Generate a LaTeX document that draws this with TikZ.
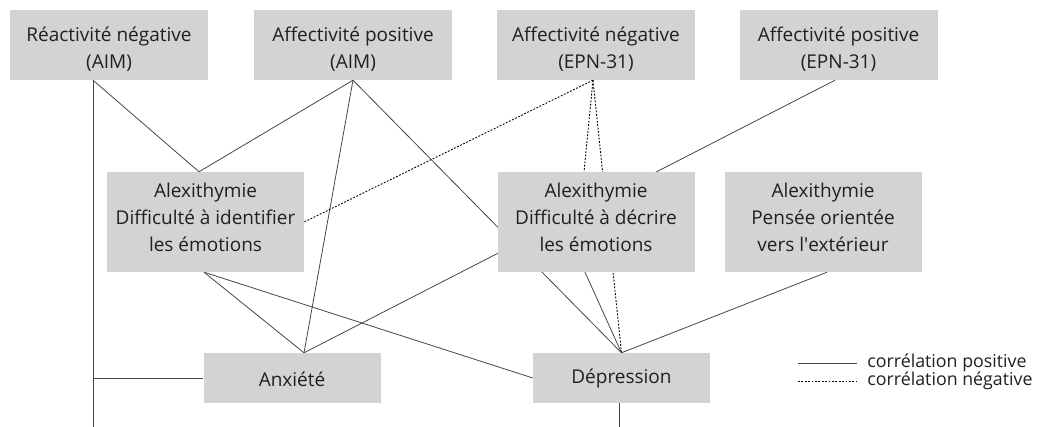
\documentclass[tikz,border=0pt]{standalone}
\usepackage{fontspec}
\setmainfont{Open Sans}
\usetikzlibrary{positioning,calc}
\pgfdeclarelayer{background}
\pgfsetlayers{background,main}
\definecolor{boxgray}{RGB}{210,211,213}
\definecolor{linegray}{RGB}{70,70,70}
\definecolor{txt}{RGB}{35,31,32}

\begin{document}
\begin{tikzpicture}[x=1pt,y=-1pt,font=\fontsize{19}{27}\selectfont,text=txt,
	box/.style={fill=boxgray, inner sep=0pt},
	boxtext/.style={align=center, inner sep=0pt, text=txt},
	topbox/.style={box, minimum width=198pt, minimum height=70pt, label={[boxtext, yshift=-4pt]center:{#1}}},
	midbox/.style={box, minimum width=197pt, minimum height=100pt, label={[boxtext, yshift=5pt]center:{#1}}},
	botbox/.style={box, minimum width=177pt, minimum height=50pt, label={[boxtext, yshift=-1pt]center:{#1}}},
	poscor/.style={draw=linegray, line width=0.8pt},
	negcor/.style={draw=black, line width=0.9pt, dash pattern=on 1.8pt off 1.6pt},
	legtext/.style={right=10pt, inner sep=0pt, font=\fontsize{17.8}{20}\selectfont}]
	\useasboundingbox (0,0) rectangle (1045,427);
	\node[topbox={Réactivité négative\\(AIM)}] (reacneg) at (109,45) {};
	\node[topbox={Affectivité positive\\(AIM)}] (affposaim) at (353,45) {};
	\node[topbox={Affectivité négative\\(EPN-31)}] (affnegepn) at (596,45) {};
	\node[topbox={Affectivité positive\\(EPN-31)}] (affposepn) at (838.5,45) {};
	\node[midbox={Alexithymie\\Difficulté à identifier\\les émotions}] (alexid) at (205.5,222) {};
	\node[midbox={Alexithymie\\Difficulté à décrire\\les émotions}] (alexdec) at (596,222) {};
	\node[midbox={Alexithymie\\Pensée orientée\\vers l\textquotesingle extérieur}] (alexpen) at (823,222) {};
	\node[botbox={Anxiété}] (anx) at (292,378) {};
	\node[botbox={Dépression}] (dep) at (621.5,378) {};
	\coordinate (reacend) at (93,427);
	\coordinate (depend) at (619,427);
	\begin{pgfonlayer}{background}
		\draw[poscor] ([xshift=-16pt]reacneg.south) -- (reacend);
		\draw[poscor] ([xshift=-16pt]reacneg.south |- anx.west) -- (anx.west);
		\draw[poscor] ([xshift=-16pt]reacneg.south) -- ([xshift=-6.5pt]alexid.north);
		\draw[poscor] (affposaim.south) -- ([xshift=-6.5pt]alexid.north);
		\draw[poscor] (affposaim.south) -- ([xshift=12pt]anx.north);
		\draw[poscor] (affposaim.south) -- (dep.north);
		\draw[negcor] ([xshift=-3pt]affnegepn.south) -- (alexid.east);
		\draw[negcor] ([xshift=-3pt]affnegepn.south) -- ([xshift=-12pt]alexdec.north);
		\draw[negcor] ([xshift=-3pt]affnegepn.south) -- (dep.north);
		\draw[poscor] ([xshift=-3.5pt]affposepn.south) -- ([xshift=12pt]anx.north);
		\draw[poscor] ([xshift=-1.5pt]alexid.south) -- ([xshift=12pt]anx.north);
		\draw[poscor] ([xshift=-1.5pt]alexid.south) -- (dep.west);
		\draw[poscor] ([xshift=-11pt]alexdec.south) -- (dep.north);
		\draw[poscor] ([xshift=4pt]alexpen.south) -- (dep.north);
		\draw[poscor] ([xshift=-2.5pt]dep.south) -- (depend);
	\end{pgfonlayer}
	\draw[poscor] (798,363) -- (857,363) node[legtext] (legpos) {corrélation positive};
	\draw[negcor] (798,381) -- (857,381) node[legtext] (legneg) {corrélation négative};
\end{tikzpicture}
\end{document}
